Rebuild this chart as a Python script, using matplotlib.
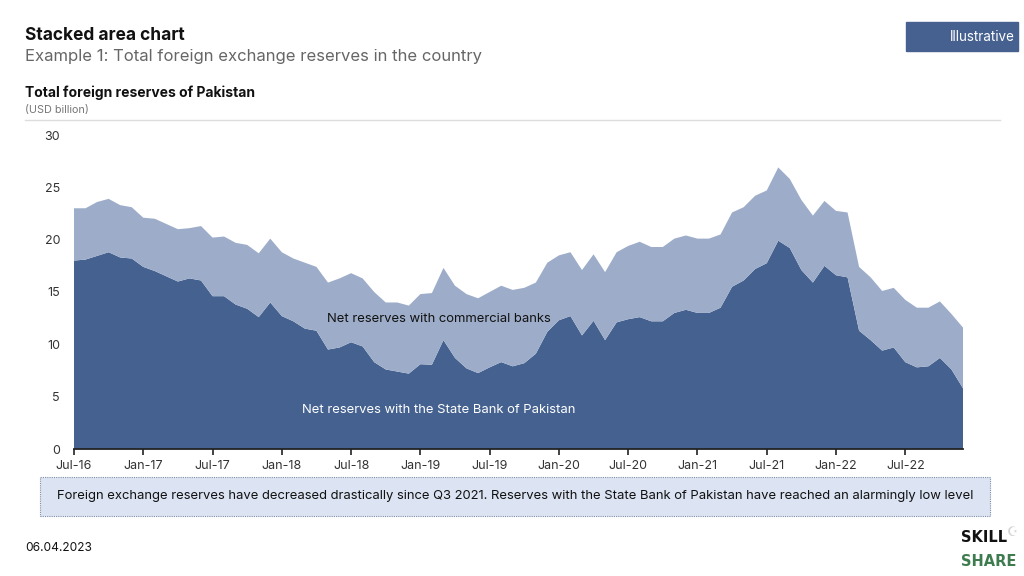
import matplotlib.pyplot as plt
from matplotlib.patches import Rectangle

plt.rcParams["font.family"] = ["Inter", "DejaVu Sans"]

# monthly, Jul-16 .. Dec-22 (USD billion)
total = [23.0, 23.0, 23.6, 23.9, 23.3, 23.1, 22.1, 22.0, 21.5, 21.0, 21.1, 21.3,
         20.2, 20.3, 19.7, 19.5, 18.7, 20.1, 18.8, 18.2, 17.8, 17.4, 15.9, 16.3,
         16.8, 16.3, 15.0, 14.0, 14.0, 13.7, 14.8, 14.9, 17.3, 15.6, 14.8, 14.4,
         15.0, 15.6, 15.2, 15.4, 15.9, 17.8, 18.5, 18.8, 17.1, 18.6, 16.9, 18.8,
         19.4, 19.8, 19.3, 19.3, 20.1, 20.4, 20.1, 20.1, 20.5, 22.6, 23.1, 24.2,
         24.7, 26.9, 25.8, 23.8, 22.3, 23.7, 22.75, 22.6, 17.4, 16.4, 15.1, 15.4,
         14.25, 13.5, 13.5, 14.1, 12.9, 11.6]
sbp = [18.0, 18.1, 18.45, 18.8, 18.3, 18.2, 17.4, 17.0, 16.5, 16.0, 16.3, 16.1,
       14.6, 14.6, 13.8, 13.4, 12.6, 14.0, 12.7, 12.2, 11.5, 11.3, 9.5, 9.7,
       10.2, 9.8, 8.3, 7.6, 7.4, 7.2, 8.1, 8.05, 10.4, 8.7, 7.7, 7.25,
       7.8, 8.3, 7.9, 8.2, 9.1, 11.2, 12.3, 12.7, 10.85, 12.25, 10.4, 12.1,
       12.4, 12.6, 12.2, 12.2, 13.0, 13.3, 13.0, 13.0, 13.5, 15.5, 16.1, 17.2,
       17.75, 19.9, 19.2, 17.1, 15.9, 17.5, 16.6, 16.4, 11.3, 10.4, 9.4, 9.7,
       8.3, 7.8, 7.9, 8.7, 7.6, 5.8]
banks = [t - s for t, s in zip(total, sbp)]

tick_labels = ["Jul-16", "Jan-17", "Jul-17", "Jan-18", "Jul-18", "Jan-19", "Jul-19",
               "Jan-20", "Jul-20", "Jan-21", "Jul-21", "Jan-22", "Jul-22"]
months = list(range(len(total)))

dark = "#44618f"
light = "#9dadc9"

fig = plt.figure(figsize=(10.24, 5.76), dpi=100)
W, H = 1024, 576

ax = fig.add_axes([74 / W, 1 - 449 / H, 889 / W, 314 / H])
ax.stackplot(months, sbp, banks, colors=[dark, light], linewidth=0)
ax.set_xlim(0, 77)
ax.set_ylim(0, 30)
ax.set_yticks([0, 5, 10, 15, 20, 25, 30])
ax.set_xticks(range(0, 78, 6))
ax.set_xticklabels(tick_labels)
ax.tick_params(axis="y", length=0, labelsize=9, labelcolor="#333333", pad=10)
ax.tick_params(axis="x", length=4, width=1.2, color="#222222", labelsize=9,
               labelcolor="#333333", pad=4)
for s in ["top", "right", "left"]:
    ax.spines[s].set_visible(False)
ax.spines["bottom"].set_color("#222222")
ax.spines["bottom"].set_linewidth(1.3)

ax.text(31.6, 12.4, "Net reserves with commercial banks", ha="center", va="center",
        fontsize=9.4, color="#111111")
ax.text(31.6, 3.7, "Net reserves with the State Bank of Pakistan", ha="center",
        va="center", fontsize=9.4, color="white")

# header texts
fig.text(25 / W, 1 - 35 / H, "Stacked area chart", fontsize=12.5, fontweight="bold",
         va="center", color="#111111")
fig.text(25 / W, 1 - 57 / H, "Example 1: Total foreign exchange reserves in the country",
         fontsize=12, va="center", color="#666666")
fig.text(25 / W, 1 - 93 / H, "Total foreign reserves of Pakistan", fontsize=10,
         fontweight="bold", va="center", color="#111111")
fig.text(25 / W, 1 - 110 / H, "(USD billion)", fontsize=7.8, va="center", color="#777777")
fig.add_artist(plt.Line2D([25 / W, 1000 / W], [1 - 120 / H, 1 - 120 / H],
                          color="#dddddd", linewidth=1))

# illustrative tag
fig.add_artist(Rectangle((906 / W, 1 - 51 / H), 112 / W, 29 / H, color="#46608f",
                         transform=fig.transFigure))
fig.text(1015 / W, 1 - 37 / H, "Illustrative", fontsize=9.7, color="white",
         ha="right", va="center")

# takeaway box
fig.add_artist(Rectangle((40 / W, 1 - 516 / H), 950 / W, 39 / H, facecolor="#dce4f3",
                         edgecolor="#7f8ea8", linestyle=(0, (1, 1)), linewidth=0.8,
                         transform=fig.transFigure))
fig.text(515 / W, 1 - 496 / H,
         "Foreign exchange reserves have decreased drastically since Q3 2021. "
         "Reserves with the State Bank of Pakistan have reached an alarmingly low level",
         fontsize=9.4, ha="center", va="center", color="#111111")

fig.text(25 / W, 1 - 548 / H, "06.04.2023", fontsize=8.6, va="center", color="#111111")

# logo
fig.text(961 / W, 1 - 538 / H, "SKILL", fontsize=10.5, fontweight="heavy",
         family="DejaVu Sans", va="center", color="#111111")
fig.text(961 / W, 1 - 562 / H, "SHARE", fontsize=10.5, fontweight="heavy",
         family="DejaVu Sans", va="center", color="#3e7b4f")
fig.text(1013 / W, 1 - 533 / H, "\u262a", fontsize=9, family="DejaVu Sans",
         ha="center", va="center", color="#d5d5d5")

fig.savefig("out.png", dpi=100)
